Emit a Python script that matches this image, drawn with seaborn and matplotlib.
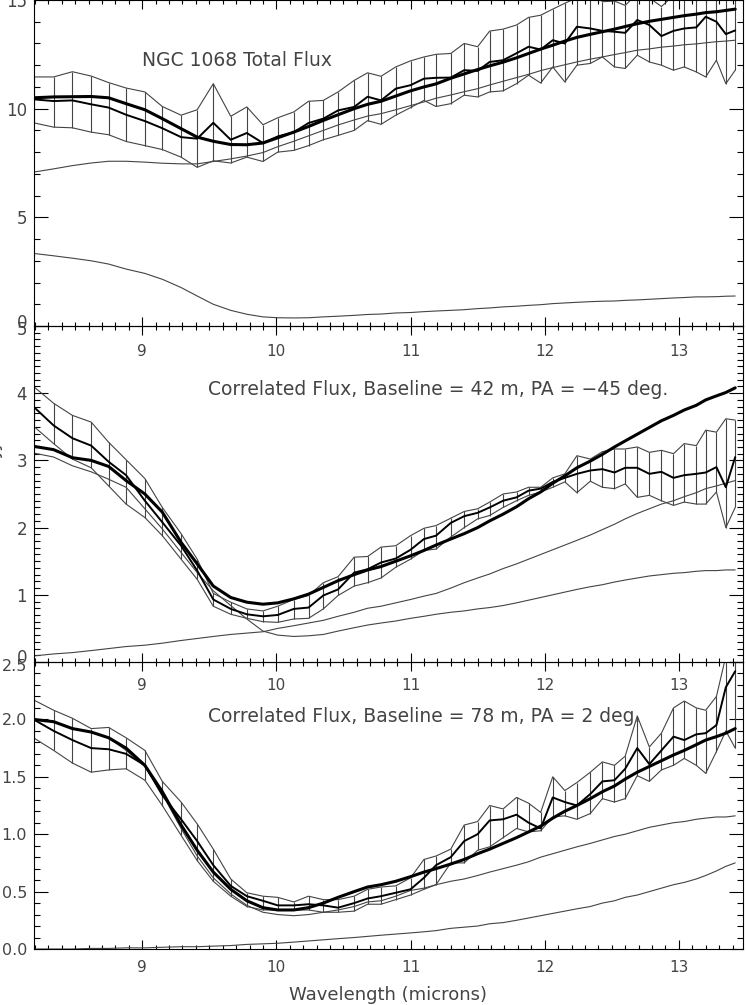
import seaborn as sns
import matplotlib.pyplot as plt
import matplotlib.transforms as mtransforms
from matplotlib.ticker import MultipleLocator

# wavelength grid (microns), shared by the three panels
wl = [8.19, 8.34, 8.48, 8.62, 8.75, 8.88, 9.02, 9.15, 9.29, 9.41, 9.53, 9.66, 9.78,
      9.90, 10.01, 10.13, 10.24, 10.35, 10.46, 10.58, 10.68,
      10.78, 10.89, 11.00, 11.10, 11.19, 11.30, 11.40, 11.50, 11.59, 11.69, 11.79,
      11.88, 11.97, 12.06, 12.15, 12.24, 12.34, 12.43, 12.52, 12.60, 12.69, 12.78,
      12.87, 12.96, 13.04, 13.13, 13.20, 13.28, 13.35, 13.42]

# total flux panel
tot_hi = [11.46, 11.46, 11.70, 11.50, 11.20, 10.95, 10.77, 10.10, 9.70, 9.95, 11.15, 9.65, 10.08,
          9.26, 9.58, 9.85, 10.34, 10.38, 10.77, 11.30, 11.65,
          11.49, 11.92, 12.20, 12.38, 12.50, 12.54, 13.00, 12.85, 13.57, 13.66, 13.85,
          14.20, 14.30, 14.58, 14.85, 15.10, 15.40, 14.92, 14.95, 14.75, 15.30, 15.10,
          14.70, 15.20, 15.30, 15.40, 15.30, 15.50, 15.30, 15.20]
tot_mid = [10.43, 10.35, 10.38, 10.20, 10.05, 9.72, 9.43, 9.10, 8.69, 8.62, 9.35, 8.57, 8.88,
           8.42, 8.72, 8.92, 9.34, 9.54, 9.92, 10.08, 10.55,
           10.38, 10.92, 11.08, 11.38, 11.42, 11.43, 11.77, 11.74, 12.15, 12.23, 12.55,
           12.85, 12.72, 13.15, 13.00, 13.77, 13.69, 13.58, 13.54, 13.49, 14.08, 13.85,
           13.34, 13.58, 13.69, 13.74, 14.23, 14.00, 13.43, 13.60]
tot_lo = [9.35, 9.15, 9.12, 8.92, 8.80, 8.49, 8.30, 8.12, 7.77, 7.30, 7.60, 7.50, 7.77,
          7.57, 8.00, 8.08, 8.30, 8.57, 8.77, 9.00, 9.45,
          9.28, 9.70, 10.05, 10.38, 10.10, 10.23, 10.62, 10.54, 10.77, 10.82, 11.15,
          11.54, 11.18, 11.92, 11.23, 12.00, 12.08, 12.38, 11.92, 11.85, 12.46, 12.15,
          12.00, 11.77, 11.92, 11.69, 11.46, 12.23, 11.15, 11.77]
tot_model = [10.50, 10.54, 10.55, 10.56, 10.50, 10.23, 9.95, 9.54, 9.08, 8.69, 8.50, 8.35, 8.34,
             8.42, 8.66, 8.92, 9.18, 9.46, 9.72, 10.00, 10.20,
             10.34, 10.58, 10.82, 11.00, 11.14, 11.40, 11.60, 11.80, 11.97, 12.14, 12.34,
             12.54, 12.74, 12.92, 13.11, 13.28, 13.42, 13.54, 13.66, 13.78, 13.91, 14.02,
             14.11, 14.20, 14.28, 14.35, 14.42, 14.46, 14.52, 14.58]
tot_comp1 = [7.08, 7.23, 7.38, 7.50, 7.58, 7.58, 7.54, 7.49, 7.46, 7.46, 7.57, 7.69, 7.82,
             7.98, 8.25, 8.50, 8.75, 9.00, 9.25, 9.48, 9.66,
             9.77, 9.95, 10.14, 10.31, 10.48, 10.63, 10.78, 10.92, 11.09, 11.26, 11.43,
             11.58, 11.75, 11.89, 12.02, 12.15, 12.28, 12.38, 12.49, 12.58, 12.69, 12.75,
             12.83, 12.88, 12.94, 12.98, 13.03, 13.08, 13.11, 13.15]
tot_comp2 = [3.34, 3.23, 3.12, 3.00, 2.85, 2.62, 2.42, 2.15, 1.77, 1.38, 1.00, 0.72, 0.54,
             0.42, 0.38, 0.37, 0.38, 0.42, 0.45, 0.49, 0.53,
             0.55, 0.60, 0.62, 0.66, 0.69, 0.72, 0.75, 0.80, 0.83, 0.88, 0.91,
             0.95, 0.98, 1.03, 1.06, 1.09, 1.12, 1.14, 1.15, 1.18, 1.20, 1.23,
             1.26, 1.29, 1.31, 1.34, 1.34, 1.35, 1.37, 1.38]

# correlated flux, 42 m baseline
b42_hi = [4.10, 3.85, 3.67, 3.57, 3.27, 3.01, 2.73, 2.30, 1.91, 1.53, 1.02, 0.89, 0.79,
          0.76, 0.83, 0.93, 0.99, 1.18, 1.27, 1.56, 1.57,
          1.71, 1.73, 1.88, 1.99, 2.03, 2.14, 2.24, 2.28, 2.38, 2.50, 2.53,
          2.60, 2.60, 2.74, 2.80, 3.07, 3.02, 3.13, 3.17, 3.17, 3.20, 3.12,
          3.15, 3.10, 3.25, 3.22, 3.45, 3.42, 3.62, 3.60]
b42_mid = [3.80, 3.52, 3.33, 3.22, 2.98, 2.78, 2.40, 2.08, 1.73, 1.36, 0.93, 0.79, 0.71,
           0.68, 0.70, 0.79, 0.81, 0.99, 1.08, 1.33, 1.38,
           1.48, 1.54, 1.67, 1.83, 1.88, 2.07, 2.17, 2.22, 2.30, 2.40, 2.45,
           2.55, 2.58, 2.68, 2.74, 2.80, 2.85, 2.87, 2.82, 2.89, 2.89, 2.80,
           2.83, 2.74, 2.78, 2.80, 2.82, 2.90, 2.60, 3.05]
b42_lo = [3.51, 3.25, 3.02, 2.89, 2.62, 2.35, 2.15, 1.88, 1.53, 1.23, 0.83, 0.71, 0.65,
          0.60, 0.59, 0.64, 0.65, 0.79, 0.99, 1.13, 1.18,
          1.25, 1.41, 1.53, 1.66, 1.68, 1.86, 2.00, 2.13, 2.18, 2.30, 2.40,
          2.48, 2.53, 2.60, 2.68, 2.52, 2.69, 2.60, 2.58, 2.65, 2.45, 2.48,
          2.40, 2.33, 2.38, 2.35, 2.35, 2.53, 2.00, 2.30]
b42_model = [3.21, 3.16, 3.04, 3.00, 2.91, 2.70, 2.50, 2.23, 1.78, 1.46, 1.13, 0.96, 0.89,
             0.86, 0.88, 0.94, 1.01, 1.11, 1.21, 1.30, 1.37,
             1.42, 1.50, 1.58, 1.66, 1.74, 1.83, 1.91, 2.00, 2.10, 2.20, 2.31,
             2.43, 2.53, 2.66, 2.77, 2.89, 2.99, 3.09, 3.20, 3.29, 3.39, 3.49,
             3.59, 3.67, 3.75, 3.82, 3.90, 3.96, 4.01, 4.08]
b42_comp1 = [3.11, 3.05, 2.92, 2.83, 2.72, 2.60, 2.28, 1.98, 1.63, 1.33, 1.06, 0.84, 0.64,
             0.46, 0.40, 0.38, 0.39, 0.41, 0.46, 0.51, 0.55,
             0.58, 0.61, 0.65, 0.68, 0.71, 0.74, 0.76, 0.79, 0.81, 0.84, 0.88,
             0.92, 0.96, 1.00, 1.04, 1.08, 1.12, 1.15, 1.19, 1.22, 1.25, 1.28,
             1.30, 1.32, 1.33, 1.35, 1.36, 1.36, 1.37, 1.37]
b42_comp2 = [0.09, 0.12, 0.14, 0.17, 0.20, 0.23, 0.25, 0.28, 0.32, 0.35, 0.38, 0.41, 0.43,
             0.45, 0.50, 0.54, 0.58, 0.62, 0.68, 0.74, 0.80,
             0.83, 0.88, 0.93, 0.98, 1.02, 1.10, 1.18, 1.25, 1.31, 1.39, 1.46,
             1.53, 1.60, 1.67, 1.74, 1.81, 1.89, 1.97, 2.05, 2.13, 2.21, 2.28,
             2.35, 2.40, 2.46, 2.52, 2.58, 2.62, 2.66, 2.70]

# correlated flux, 78 m baseline
b78_hi = [2.17, 2.08, 2.01, 1.92, 1.93, 1.84, 1.73, 1.46, 1.28, 1.09, 0.87, 0.61, 0.49,
          0.46, 0.45, 0.41, 0.46, 0.43, 0.43, 0.46, 0.52,
          0.54, 0.55, 0.62, 0.78, 0.81, 0.87, 1.08, 1.11, 1.25, 1.22, 1.32,
          1.27, 1.19, 1.50, 1.38, 1.45, 1.54, 1.63, 1.60, 1.68, 2.03, 1.76,
          1.88, 2.10, 2.16, 2.10, 2.08, 2.20, 2.55, 2.65]
b78_mid = [2.00, 1.90, 1.82, 1.75, 1.74, 1.70, 1.60, 1.34, 1.13, 0.94, 0.73, 0.55, 0.46,
           0.42, 0.38, 0.38, 0.39, 0.38, 0.36, 0.40, 0.44,
           0.46, 0.49, 0.52, 0.62, 0.73, 0.80, 0.94, 1.00, 1.12, 1.13, 1.17,
           1.10, 1.05, 1.32, 1.28, 1.25, 1.35, 1.46, 1.47, 1.57, 1.75, 1.61,
           1.73, 1.85, 1.82, 1.87, 1.88, 1.95, 2.28, 2.42]
b78_lo = [1.84, 1.73, 1.62, 1.54, 1.56, 1.57, 1.47, 1.25, 0.99, 0.77, 0.59, 0.46, 0.37,
          0.34, 0.34, 0.34, 0.34, 0.32, 0.32, 0.33, 0.39,
          0.39, 0.43, 0.47, 0.52, 0.56, 0.75, 0.75, 0.86, 0.89, 0.97, 1.05,
          1.02, 1.03, 1.15, 1.16, 1.13, 1.18, 1.31, 1.28, 1.31, 1.51, 1.46,
          1.56, 1.60, 1.66, 1.60, 1.53, 1.72, 1.90, 1.75]
b78_model = [2.00, 1.98, 1.92, 1.89, 1.84, 1.75, 1.60, 1.37, 1.08, 0.86, 0.67, 0.52, 0.42,
             0.36, 0.34, 0.34, 0.36, 0.40, 0.45, 0.50, 0.54,
             0.56, 0.59, 0.63, 0.67, 0.70, 0.74, 0.78, 0.83, 0.87, 0.92, 0.97,
             1.02, 1.07, 1.14, 1.20, 1.25, 1.31, 1.37, 1.42, 1.48, 1.54, 1.59,
             1.64, 1.69, 1.73, 1.78, 1.82, 1.85, 1.88, 1.92]
b78_comp1 = [2.00, 1.98, 1.92, 1.89, 1.84, 1.73, 1.59, 1.35, 1.05, 0.81, 0.62, 0.48, 0.38,
             0.32, 0.30, 0.29, 0.30, 0.32, 0.34, 0.37, 0.41,
             0.42, 0.46, 0.51, 0.53, 0.56, 0.59, 0.61, 0.64, 0.67, 0.70, 0.73,
             0.76, 0.80, 0.83, 0.86, 0.89, 0.92, 0.95, 0.98, 1.00, 1.03, 1.06,
             1.08, 1.10, 1.11, 1.13, 1.14, 1.15, 1.15, 1.16]
b78_comp2 = [0.00, 0.00, 0.00, 0.005, 0.005, 0.01, 0.01, 0.015, 0.02, 0.02, 0.025, 0.03, 0.04,
             0.045, 0.05, 0.06, 0.07, 0.08, 0.09, 0.10, 0.11,
             0.12, 0.13, 0.14, 0.15, 0.16, 0.18, 0.19, 0.20, 0.22, 0.23, 0.25,
             0.27, 0.29, 0.31, 0.33, 0.35, 0.37, 0.40, 0.42, 0.45, 0.47, 0.50,
             0.53, 0.56, 0.58, 0.61, 0.64, 0.68, 0.72, 0.75]

sns.set_style("ticks")
plt.rcParams['font.family'] = ['DejaVu Sans']
txtcol = '#444444'
thin = '#444444'

fig = plt.figure(figsize=(7.46, 10.05), dpi=100)
x0, x1 = 33.5 / 746, 743 / 746
ax1 = fig.add_axes([x0, 1 - 326 / 1005, x1 - x0, 326 / 1005])
ax2 = fig.add_axes([x0, 1 - 662 / 1005, x1 - x0, 336 / 1005])
ax3 = fig.add_axes([x0, 1 - 949 / 1005, x1 - x0, 287 / 1005])


def panel(ax, lo, mid, hi, model, c1, c2):
    # error bars as plain vertical strokes between the envelope curves
    ax.vlines(wl, lo, hi, color=thin, lw=0.8)
    for y in (lo, hi, c1, c2):
        sns.lineplot(x=wl, y=y, ax=ax, color=thin, lw=0.8, sort=False, estimator=None)
    sns.lineplot(x=wl, y=mid, ax=ax, color='black', lw=1.4, sort=False, estimator=None)
    sns.lineplot(x=wl, y=model, ax=ax, color='black', lw=2.2, sort=False, estimator=None)


panel(ax1, tot_lo, tot_mid, tot_hi, tot_model, tot_comp1, tot_comp2)
panel(ax2, b42_lo, b42_mid, b42_hi, b42_model, b42_comp1, b42_comp2)
panel(ax3, b78_lo, b78_mid, b78_hi, b78_model, b78_comp1, b78_comp2)

ylims = [(0, 15), (0, 5), (0, 2.5)]
ymaj = [5, 1, 0.5]
ymin = [1, 0.1, 0.1]
xpads = [13, 11.5, 8]
ysizes = [12, 12, 11.5]
for ax, yl, mj, mn, xp, ys in zip([ax1, ax2, ax3], ylims, ymaj, ymin, xpads, ysizes):
    ax.set_facecolor('none')
    ax.set_xlim(8.19, 13.478)
    ax.set_ylim(*yl)
    ax.xaxis.set_major_locator(MultipleLocator(1))
    ax.xaxis.set_minor_locator(MultipleLocator(0.1))
    ax.yaxis.set_major_locator(MultipleLocator(mj))
    ax.yaxis.set_minor_locator(MultipleLocator(mn))
    ax.tick_params(which='both', direction='in', top=True, right=True,
                   color='black', width=0.8, labelcolor=txtcol)
    ax.tick_params(axis='y', which='major', length=10, labelsize=ys, pad=4.7)
    ax.tick_params(axis='y', which='minor', length=4.5)
    ax.tick_params(axis='x', which='major', length=6.5, labelsize=11, pad=xp)
    ax.tick_params(axis='x', which='minor', length=3)
    for s in ax.spines.values():
        s.set_linewidth(0.8)
        s.set_color('black')
    ax.set_xlabel('')
    ax.set_ylabel('')

ax1.text(9.0, 11.97, 'NGC 1068 Total Flux', fontsize=13.5, color=txtcol, va='baseline')
ax2.text(9.49, 3.97, 'Correlated Flux, Baseline = 42 m, PA = \u221245 deg.',
         fontsize=13.5, color=txtcol, va='baseline')
ax3.text(9.49, 1.98, 'Correlated Flux, Baseline = 78 m, PA = 2 deg.',
         fontsize=13.5, color=txtcol, va='baseline')
ax3.set_xlabel('Wavelength (microns)', fontsize=13, color=txtcol, labelpad=8)
fig.text(0.004, 1 - 470 / 1005, 'Flux (Jy)', rotation=90, ha='right', va='center',
         fontsize=13, color=txtcol)

# nudge the y labels that sit on a shared panel border apart a little
fig.canvas.draw()
for ax, loc, dy in [(ax1, 0, 5), (ax2, 5, -2), (ax2, 0, 6), (ax3, 2.5, -3)]:
    for tick in ax.yaxis.get_major_ticks():
        if abs(tick.get_loc() - loc) < 1e-6:
            lab = tick.label1
            lab.set_transform(lab.get_transform()
                              + mtransforms.ScaledTranslation(0, dy / 100, fig.dpi_scale_trans))

fig.savefig('out.png', dpi=100, facecolor='white')
